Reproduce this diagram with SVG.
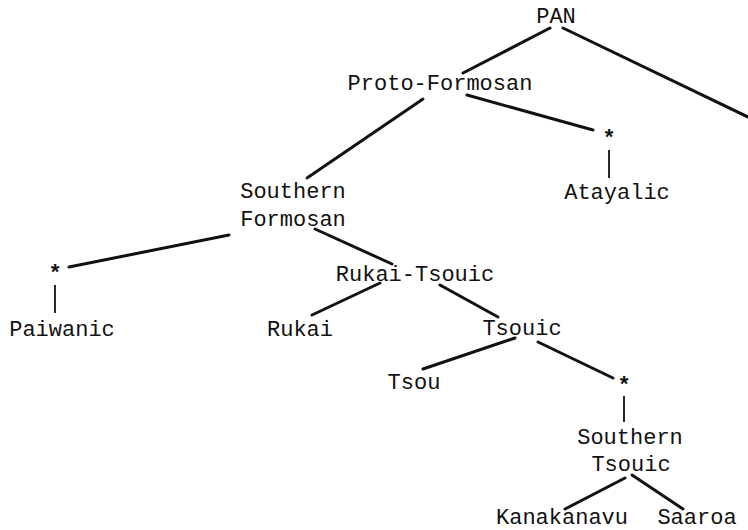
<svg xmlns="http://www.w3.org/2000/svg" width="748" height="530" viewBox="0 0 748 530">
  <style>
    text { font-family: "Liberation Mono", "Courier New", monospace; font-size: 22px; fill: #111; text-anchor: middle; }
    .star { font-weight: bold; }
    .edge { stroke: #111; stroke-width: 3; stroke-linecap: round; fill: none; }
    .stem { stroke: #111; stroke-width: 1.8; fill: none; }
  </style>
  <rect width="748" height="530" fill="#fff"/>

  <g id="connectors">
    <line class="edge" x1="550" y1="28" x2="463" y2="73"/>
    <line class="edge" x1="563" y1="28" x2="750" y2="118"/>
    <line class="edge" x1="423" y1="99" x2="307" y2="178"/>
    <line class="edge" x1="467" y1="95" x2="593" y2="130"/>
    <line class="stem" x1="609" y1="150" x2="609" y2="178"/>
    <line class="edge" x1="229" y1="235" x2="69" y2="267"/>
    <line class="stem" x1="55" y1="285" x2="55" y2="313"/>
    <line class="edge" x1="315" y1="229" x2="392" y2="264"/>
    <line class="edge" x1="380" y1="283" x2="312" y2="315"/>
    <line class="edge" x1="440" y1="285" x2="498" y2="317"/>
    <line class="edge" x1="515" y1="338" x2="423" y2="369"/>
    <line class="edge" x1="538" y1="342" x2="613" y2="378"/>
    <line class="stem" x1="624" y1="396" x2="624" y2="422"/>
    <line class="edge" x1="625" y1="478" x2="565" y2="509"/>
    <line class="edge" x1="632" y1="475" x2="683" y2="509"/>
  </g>

  <g id="pan"><text x="556" y="23">PAN</text></g>
  <g id="proto-formosan"><text x="440" y="90">Proto-Formosan</text></g>
  <g id="atayalic-node"><text class="star" x="609" y="145">*</text></g>
  <g id="atayalic"><text x="617" y="199">Atayalic</text></g>
  <g id="southern-formosan">
    <text x="293" y="198">Southern</text>
    <text x="293" y="226">Formosan</text>
  </g>
  <g id="paiwanic-node"><text class="star" x="55" y="280">*</text></g>
  <g id="paiwanic"><text x="62" y="336">Paiwanic</text></g>
  <g id="rukai-tsouic"><text x="415" y="281">Rukai-Tsouic</text></g>
  <g id="rukai"><text x="300" y="336">Rukai</text></g>
  <g id="tsouic"><text x="522" y="335">Tsouic</text></g>
  <g id="tsou"><text x="414" y="389">Tsou</text></g>
  <g id="southern-tsouic-node"><text class="star" x="624" y="392">*</text></g>
  <g id="southern-tsouic">
    <text x="630" y="444">Southern</text>
    <text x="631" y="471">Tsouic</text>
  </g>
  <g id="kanakanavu"><text x="562" y="524">Kanakanavu</text></g>
  <g id="saaroa"><text x="697" y="524">Saaroa</text></g>
</svg>
